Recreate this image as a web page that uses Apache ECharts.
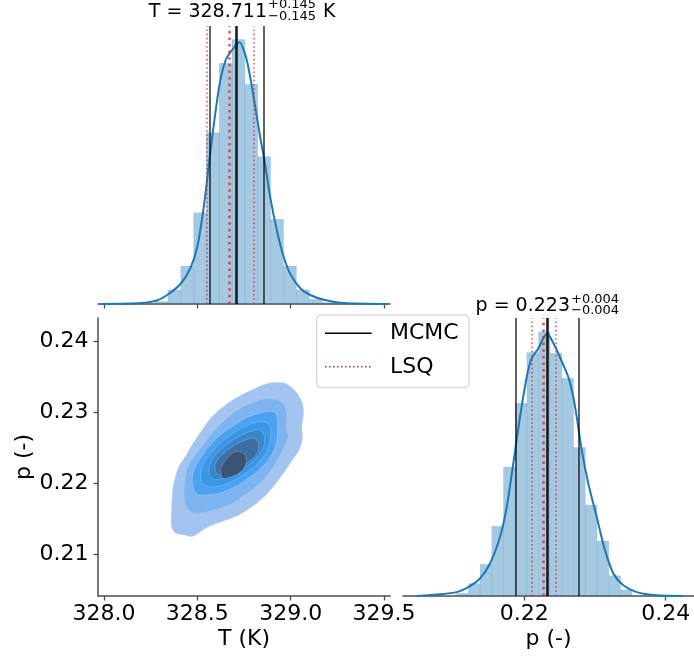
<!DOCTYPE html>
<html><head><meta charset="utf-8">
<script src="https://cdn.jsdelivr.net/npm/echarts@6/dist/echarts.min.js"></script>
<style>html,body{margin:0;padding:0;background:#fff}#c{width:694px;height:662px}</style>
</head><body><div id="c"></div>
<script>
// ---------------- data ----------------
// T marginal histogram (bin edges, density)
const tBinEdges = [328.273, 328.342, 328.411, 328.480, 328.548, 328.617, 328.686, 328.755, 328.824, 328.893, 328.962, 329.031, 329.100, 329.169, 329.238];
const tBinDensity = [0.027, 0.15, 0.40, 0.96, 1.80, 2.53, 2.78, 2.31, 1.55, 0.89, 0.40, 0.15, 0.05, 0.015];
// T KDE curve
const tKdeX = [327.985, 328.197, 328.286, 328.348, 328.411, 328.464, 328.500, 328.536, 328.571, 328.616, 328.652, 328.690, 328.725, 328.760, 328.786, 328.813, 328.836, 328.857, 328.893, 328.929, 328.964, 329.000, 329.054, 329.107, 329.178, 329.286, 329.520];
const tKdeY = [0, 0.01, 0.04, 0.108, 0.213, 0.381, 0.605, 1.043, 1.620, 2.271, 2.565, 2.680, 2.750, 2.600, 2.355, 2.040, 1.760, 1.536, 1.095, 0.749, 0.486, 0.308, 0.161, 0.092, 0.045, 0.01, 0];
// p marginal histogram
const pBinEdges = [0.21043, 0.21208, 0.21374, 0.21539, 0.21705, 0.21870, 0.22036, 0.22201, 0.22367, 0.22532, 0.22698, 0.22864, 0.23029, 0.23195, 0.23360, 0.23526];
const pBinDensity = [1.0, 4.5, 11.4, 25.1, 46.4, 69.3, 87.6, 95.0, 87.3, 78.3, 53.4, 32.7, 19.8, 7.3, 2.2];
// p KDE curve
const pKdeX = [0.20478, 0.20808, 0.21044, 0.21208, 0.21373, 0.21515, 0.21656, 0.21751, 0.21844, 0.21939, 0.22034, 0.22105, 0.22198, 0.22269, 0.22317, 0.22364, 0.22458, 0.22552, 0.22622, 0.22693, 0.22741, 0.22812, 0.22905, 0.23024, 0.23141, 0.23259, 0.23400, 0.23590, 0.23873, 0.24249];
const pKdeY = [0, 0.6, 1.4, 3.2, 6.3, 11.7, 21.2, 32.0, 47.7, 64.4, 78.8, 85.5, 89.1, 92.7, 94.2, 93.2, 88.5, 83.1, 78.8, 71.6, 64.4, 52.5, 40.5, 28.4, 16.5, 8.1, 3.9, 1.4, 0.25, 0];
// summary statistics (lower, median, upper)
const tMCMC = [328.566, 328.711, 328.856];
const tLSQ = [328.548, 328.673, 328.800];
const pMCMC = [0.2188, 0.2232, 0.2277];
const pLSQ = [0.2210, 0.2227, 0.2244];
const tTitleValue = 328.711, tTitleErr = 0.145;
const pTitleValue = 0.223, pTitleErr = 0.004;
// tick labels
const tTicks = [328.0, 328.5, 329.0, 329.5];
const pTicks = [0.21, 0.22, 0.23, 0.24];
const pHistTicks = [0.22, 0.24];
// 2D KDE contour levels (outer -> inner), vertices [T, p]
const contour1 = [[328.884,0.23414],[328.964,0.23414],[329.009,0.23343],[329.045,0.23226],[329.066,0.23085],[329.066,0.22944],[329.059,0.22780],[329.062,0.22639],[329.045,0.22475],[329.009,0.22334],[328.973,0.22193],[328.928,0.22029],[328.884,0.21888],[328.830,0.21747],[328.768,0.21630],[328.705,0.21536],[328.634,0.21465],[328.562,0.21395],[328.518,0.21324],[328.473,0.21254],[328.429,0.21277],[328.384,0.21301],[328.362,0.21395],[328.362,0.21583],[328.366,0.21817],[328.375,0.22005],[328.402,0.22240],[328.437,0.22381],[328.473,0.22545],[328.527,0.22756],[328.580,0.22944],[328.652,0.23108],[328.723,0.23226],[328.795,0.23320]];
const contour2 = [[328.911,0.23179],[328.955,0.23132],[328.977,0.22991],[328.973,0.22803],[328.982,0.22662],[328.955,0.22475],[328.911,0.22263],[328.866,0.22099],[328.812,0.21958],[328.750,0.21841],[328.687,0.21724],[328.616,0.21653],[328.553,0.21606],[328.500,0.21583],[328.455,0.21630],[328.434,0.21770],[328.434,0.22005],[328.446,0.22193],[328.473,0.22334],[328.527,0.22522],[328.589,0.22733],[328.652,0.22897],[328.723,0.23038],[328.795,0.23132],[328.866,0.23188]];
const contour3 = [[328.884,0.23015],[328.919,0.22991],[328.928,0.22850],[328.928,0.22662],[328.911,0.22475],[328.866,0.22287],[328.812,0.22146],[328.750,0.22029],[328.687,0.21935],[328.625,0.21864],[328.562,0.21841],[328.509,0.21841],[328.482,0.21911],[328.473,0.22052],[328.487,0.22216],[328.518,0.22357],[328.562,0.22522],[328.625,0.22686],[328.687,0.22803],[328.759,0.22921],[328.830,0.22991]];
const contour4 = [[328.848,0.22874],[328.884,0.22827],[328.893,0.22686],[328.884,0.22522],[328.848,0.22357],[328.795,0.22216],[328.732,0.22099],[328.670,0.22005],[328.607,0.21958],[328.553,0.21958],[328.523,0.22029],[328.523,0.22193],[328.545,0.22334],[328.589,0.22475],[328.643,0.22616],[328.705,0.22733],[328.777,0.22827]];
const contour5 = [[328.830,0.22756],[328.857,0.22686],[328.857,0.22545],[328.830,0.22404],[328.777,0.22263],[328.714,0.22170],[328.652,0.22090],[328.598,0.22052],[328.571,0.22099],[328.562,0.22216],[328.584,0.22357],[328.625,0.22475],[328.678,0.22592],[328.741,0.22686],[328.795,0.22742]];
const contour6 = [[328.803,0.22639],[328.827,0.22569],[328.821,0.22428],[328.777,0.22310],[328.723,0.22216],[328.661,0.22146],[328.616,0.22123],[328.595,0.22193],[328.602,0.22310],[328.643,0.22428],[328.696,0.22531],[328.750,0.22606]];
const contour7 = [[328.705,0.22451],[328.745,0.22428],[328.762,0.22357],[328.755,0.22240],[328.723,0.22146],[328.678,0.22090],[328.637,0.22076],[328.625,0.22170],[328.634,0.22263],[328.661,0.22357]];
const contourLevels = [contour1, contour2, contour3, contour4, contour5, contour6, contour7];
const contourColors = ['#a2c4ef', '#7db4f0', '#4aa2f0', '#3997e6', '#3a86cc', '#3c70a5', '#3c5473'];

// ---------------- chart ----------------
const FONT = 'DejaVu Sans';
const AX = '#4d4d4d';
const chart = echarts.init(document.getElementById('c'), null, {renderer: 'canvas'});

function zip(a, b) { return a.map((v, i) => [v, b[i]]); }
function binData(edges, dens) { return dens.map((d, i) => [edges[i], edges[i + 1], d]); }

function histRender(params, api) {
  const p0 = api.coord([api.value(0), 0]);
  const p1 = api.coord([api.value(1), api.value(2)]);
  return {type: 'rect', shape: {x: p0[0], y: p1[1], width: p1[0] - p0[0], height: p0[1] - p1[1]},
    style: {fill: 'rgba(31,119,180,0.4)', stroke: 'rgba(31,119,180,0.15)', lineWidth: 0.6}};
}

function vlines(values, solid) {
  return values.map((v, i) => ({
    xAxis: v,
    lineStyle: solid
      ? {color: i === 1 ? 'rgba(0,0,0,0.88)' : 'rgba(0,0,0,0.68)', width: i === 1 ? 2.6 : 1.8, type: 'solid'}
      : {color: 'rgba(214,39,40,0.75)', width: i === 1 ? 2.6 : 1.6, type: i === 1 ? [2.6, 4] : [1.6, 2.6]}
  }));
}
function markLineSeries(name, xi, yi, values, solid) {
  return {type: 'line', name, xAxisIndex: xi, yAxisIndex: yi, data: [], silent: true, z: 5,
    markLine: {symbol: ['none', 'none'], silent: true, animation: false, precision: 8, label: {show: false},
      emphasis: {disabled: true}, data: vlines(values, solid)}};
}

const contourSeries = contourLevels.map((lvl, k) => ({
  type: 'custom', name: 'level' + (k + 1), xAxisIndex: 1, yAxisIndex: 1, silent: true, z: 2 + k * 0.01,
  data: lvl,
  renderItem: function (params, api) {
    if (params.dataIndex !== 0) return null;
    const pts = lvl.map(v => api.coord(v));
    return {type: 'polygon', shape: {points: pts, smooth: 0.35},
      style: {fill: contourColors[k], stroke: k >= 2 ? 'rgba(255,255,255,0.28)' : contourColors[k], lineWidth: k >= 2 ? 0.7 : 0.5}};
  }
}));

function supSub(xLeft, yMid, val, err, unit, mainRight) {
  const out = [
    {type: 'text', x: mainRight, y: yMid, silent: true,
      style: {text: val, fontFamily: FONT, fontSize: 19, fill: '#000', align: 'right', verticalAlign: 'middle'}},
    {type: 'text', x: xLeft, y: yMid - 6.8, silent: true,
      style: {text: '+' + err, fontFamily: FONT, fontSize: 13, fill: '#000', align: 'left', verticalAlign: 'middle'}},
    {type: 'text', x: xLeft, y: yMid + 4.8, silent: true,
      style: {text: '\u2212' + err, fontFamily: FONT, fontSize: 13, fill: '#000', align: 'left', verticalAlign: 'middle'}}
  ];
  if (unit) out.push({type: 'text', x: unit[1], y: yMid, silent: true,
      style: {text: unit[0], fontFamily: FONT, fontSize: 19, fill: '#000', align: 'left', verticalAlign: 'middle'}});
  return out;
}

const axisLineStyle = {show: true, lineStyle: {color: AX, width: 1.5}};
const axisTickStyle = (vals) => ({show: true, length: 4.5, lineStyle: {color: AX, width: 1.3}, customValues: vals});

const option = {
  animation: false,
  backgroundColor: '#ffffff',
  textStyle: {fontFamily: FONT},
  grid: [
    {left: 98, top: 26, width: 292, height: 278},
    {left: 98, top: 318, width: 292, height: 278},
    {left: 403, top: 318, width: 291, height: 278}
  ],
  xAxis: [
    {gridIndex: 0, type: 'value', min: 327.968, max: 329.532, axisLine: axisLineStyle,
      axisTick: axisTickStyle(tTicks), axisLabel: {show: false}, splitLine: {show: false}},
    {gridIndex: 1, type: 'value', min: 327.968, max: 329.532, axisLine: axisLineStyle,
      axisTick: axisTickStyle(tTicks), splitLine: {show: false},
      axisLabel: {customValues: tTicks, formatter: v => v.toFixed(1), fontSize: 22, color: '#000', margin: 7, fontFamily: FONT, hideOverlap: false},
      name: 'T (K)', nameLocation: 'middle', nameGap: 32, nameTextStyle: {fontSize: 22, color: '#000', fontFamily: FONT}},
    {gridIndex: 2, type: 'value', min: 0.20284, max: 0.244, axisLine: axisLineStyle,
      axisTick: axisTickStyle(pHistTicks), splitLine: {show: false},
      axisLabel: {customValues: pHistTicks, formatter: v => v.toFixed(2), fontSize: 22, color: '#000', margin: 7, fontFamily: FONT},
      name: 'p (-)', nameLocation: 'middle', nameGap: 32, nameTextStyle: {fontSize: 22, color: '#000', fontFamily: FONT}}
  ],
  yAxis: [
    {gridIndex: 0, type: 'value', min: 0, max: 2.922, show: false},
    {gridIndex: 1, type: 'value', min: 0.20412, max: 0.24334, axisLine: axisLineStyle,
      axisTick: axisTickStyle(pTicks), splitLine: {show: false},
      axisLabel: {customValues: pTicks, formatter: v => v.toFixed(2), fontSize: 22, color: '#000', margin: 9.5, fontFamily: FONT},
      name: 'p (-)', nameLocation: 'middle', nameGap: 62, nameTextStyle: {fontSize: 22, color: '#000', fontFamily: FONT}},
    {gridIndex: 2, type: 'value', min: 0, max: 100, show: false}
  ],
  series: [
    {type: 'custom', name: 'T histogram', xAxisIndex: 0, yAxisIndex: 0, renderItem: histRender,
      encode: {x: [0, 1], y: 2}, data: binData(tBinEdges, tBinDensity), z: 1, silent: true},
    {type: 'line', name: 'T KDE', xAxisIndex: 0, yAxisIndex: 0, data: zip(tKdeX, tKdeY), smooth: 0.25,
      symbol: 'none', lineStyle: {color: '#1f77b4', width: 2}, z: 3, silent: true},
    markLineSeries('MCMC', 0, 0, tMCMC, true),
    markLineSeries('LSQ', 0, 0, tLSQ, false),
    {type: 'custom', name: 'p histogram', xAxisIndex: 2, yAxisIndex: 2, renderItem: histRender,
      encode: {x: [0, 1], y: 2}, data: binData(pBinEdges, pBinDensity), z: 1, silent: true},
    {type: 'line', name: 'p KDE', xAxisIndex: 2, yAxisIndex: 2, data: zip(pKdeX, pKdeY), smooth: 0.25,
      symbol: 'none', lineStyle: {color: '#1f77b4', width: 2}, z: 3, silent: true},
    markLineSeries('MCMC', 2, 2, pMCMC, true),
    markLineSeries('LSQ', 2, 2, pLSQ, false),
    ...contourSeries
  ],
  graphic: [
    ...supSub(268, 11.7, 'T = ' + tTitleValue.toFixed(3), tTitleErr.toFixed(3), ['K', 323], 267),
    ...supSub(571, 306, 'p = ' + pTitleValue.toFixed(3), pTitleErr.toFixed(3), null, 570),
    {type: 'rect', shape: {x: 316.7, y: 315, width: 152.3, height: 72.7, r: 4}, z: 100,
      style: {fill: 'rgba(255,255,255,0.8)', stroke: '#cccccc', lineWidth: 1}},
    {type: 'line', shape: {x1: 325, y1: 333.3, x2: 371.7, y2: 333.3}, z: 101,
      style: {stroke: '#000', lineWidth: 1.5}},
    {type: 'text', x: 390, y: 333.3, z: 101,
      style: {text: 'MCMC', fontFamily: FONT, fontSize: 22, fill: '#000', align: 'left', verticalAlign: 'middle'}},
    {type: 'line', shape: {x1: 325, y1: 366.7, x2: 371.7, y2: 366.7}, z: 101,
      style: {stroke: '#d62728', lineWidth: 1.5, lineDash: [1.5, 2.5]}},
    {type: 'text', x: 390, y: 367, z: 101,
      style: {text: 'LSQ', fontFamily: FONT, fontSize: 22, fill: '#000', align: 'left', verticalAlign: 'middle'}}
  ]
};
chart.setOption(option);
</script>
</body></html>
